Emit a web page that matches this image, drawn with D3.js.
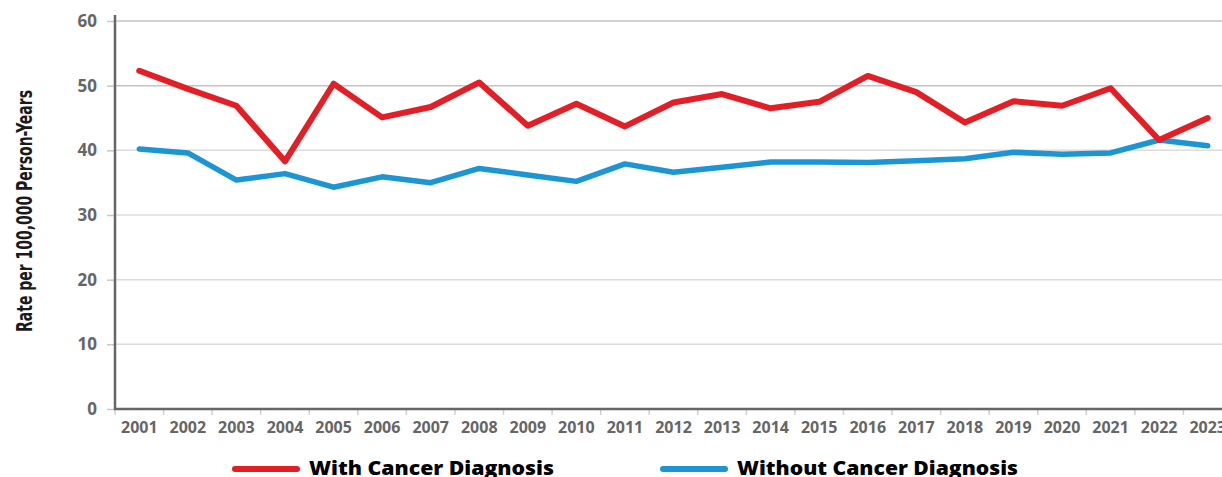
<!DOCTYPE html>
<html>
<head>
<meta charset="utf-8">
<script src="https://cdn.jsdelivr.net/npm/d3@7"></script>
<style>
  body { margin: 0; background: #fff; }
  svg { display: block; }
  .tick-label { font-family: "Open Sans", sans-serif; font-weight: 700; fill: #666; }
</style>
</head>
<body>
<div id="chart"></div>
<script>
// Global constants
const years = ["2001", "2002", "2003", "2004", "2005", "2006", "2007", "2008",
               "2009", "2010", "2011", "2012", "2013", "2014", "2015", "2016",
               "2017", "2018", "2019", "2020", "2021", "2022", "2023"];

const withCancer = [52.3, 49.5, 46.9, 38.3, 50.3, 45.1, 46.7, 50.5, 43.8, 47.2, 43.7, 47.4,
                    48.7, 46.5, 47.5, 51.5, 49.0, 44.3, 47.6, 46.9, 49.6, 41.6, 45.0];

const withoutCancer = [40.2, 39.6, 35.4, 36.4, 34.3, 35.9, 35.0, 37.2, 36.2, 35.2, 37.9, 36.6,
                       37.4, 38.2, 38.2, 38.1, 38.4, 38.7, 39.7, 39.4, 39.6, 41.6, 40.7];

const yTicks = [0, 10, 20, 30, 40, 50, 60];

const seriesLabels = ["With Cancer Diagnosis", "Without Cancer Diagnosis"];
const seriesColors = ["#e31e25", "#1c95d4"];

function drawChart() {
    const width = 1222;
    const height = 477;
    const margin = {top: 21, left: 115, bottom: 68, right: -10};

    const svg = d3.select("#chart")
        .html("")
        .append("svg")
        .attr("width", width)
        .attr("height", height);

    const xScale = d3.scaleBand()
        .domain(years)
        .range([margin.left, width - margin.right]);

    const yScale = d3.scaleLinear()
        .domain([0, 60])
        .range([height - margin.bottom, margin.top]);

    // gridlines
    svg.append("g")
        .selectAll("line")
        .data(yTicks.filter(d => d > 0))
        .enter()
        .append("line")
        .attr("x1", margin.left)
        .attr("x2", width)
        .attr("y1", d => yScale(d))
        .attr("y2", d => yScale(d))
        .attr("stroke", d => d >= 50 ? "#c4c4c4" : "#dcdcdc")
        .attr("stroke-width", 1.5);

    // y axis
    const yAxis = svg.append("g")
        .attr("transform", `translate(${margin.left}, 0)`)
        .call(d3.axisLeft(yScale).tickValues(yTicks).tickSize(8).tickPadding(10));
    yAxis.select(".domain").remove();
    yAxis.selectAll(".tick line").attr("stroke", "#c8c8c8").attr("stroke-width", 1.5);
    yAxis.selectAll("text")
        .attr("class", "tick-label")
        .style("font-size", "17px");
    yAxis.append("line")
        .attr("x1", 0).attr("x2", 0)
        .attr("y1", 15).attr("y2", yScale(0) + 1)
        .attr("stroke", "#666").attr("stroke-width", 2.5);

    // x axis
    const xAxis = svg.append("g")
        .attr("transform", `translate(0, ${yScale(0)})`)
        .call(d3.axisBottom(xScale).tickSize(0).tickPadding(13));
    xAxis.select(".domain").remove();
    xAxis.selectAll("text")
        .attr("class", "tick-label")
        .style("font-size", "16px");
    xAxis.selectAll(".tick").append("line")
        .attr("x1", -xScale.bandwidth() / 2)
        .attr("x2", -xScale.bandwidth() / 2)
        .attr("y1", 0).attr("y2", 6)
        .attr("stroke", "#d0d0d0").attr("stroke-width", 1.5);
    xAxis.append("line")
        .attr("x1", margin.left - 1).attr("x2", width)
        .attr("y1", 0).attr("y2", 0)
        .attr("stroke", "#666").attr("stroke-width", 2.5);

    // axis title
    svg.append("text")
        .attr("transform", `translate(32, 211) rotate(-90)`)
        .attr("text-anchor", "middle")
        .style("font-family", "'Liberation Sans Narrow', 'DejaVu Sans Condensed', sans-serif")
        .style("font-weight", "700")
        .style("font-size", "21px")
        .attr("textLength", 242)
        .attr("lengthAdjust", "spacingAndGlyphs")
        .attr("fill", "#1a1a1a")
        .text("Rate per 100,000 Person-Years");

    // lines
    const line = d3.line()
        .x((d, i) => xScale(years[i]) + xScale.bandwidth() / 2)
        .y(d => yScale(d));

    [withoutCancer, withCancer].forEach((values, k) => {
        svg.append("path")
            .datum(values)
            .attr("fill", "none")
            .attr("stroke", k === 1 ? seriesColors[0] : seriesColors[1])
            .attr("stroke-width", k === 1 ? 6 : 5.5)
            .attr("stroke-linejoin", "round")
            .attr("stroke-linecap", "round")
            .attr("d", line);
    });

    // legend
    const legendX = [235, 663];
    const legendLen = [245, 281];
    seriesLabels.forEach((label, i) => {
        const g = svg.append("g").attr("transform", `translate(${legendX[i]}, 469)`);
        g.append("line")
            .attr("x1", 0).attr("x2", 62)
            .attr("stroke", seriesColors[i])
            .attr("stroke-width", 6)
            .attr("stroke-linecap", "round");
        g.append("text")
            .attr("x", 74)
            .attr("y", 6)
            .style("font-family", "'Open Sans', sans-serif")
            .style("font-weight", "800")
            .style("font-size", "19px")
            .attr("textLength", legendLen[i])
            .attr("lengthAdjust", "spacingAndGlyphs")
            .attr("fill", "#000")
            .text(label);
    });
}

drawChart();
</script>
</body>
</html>
